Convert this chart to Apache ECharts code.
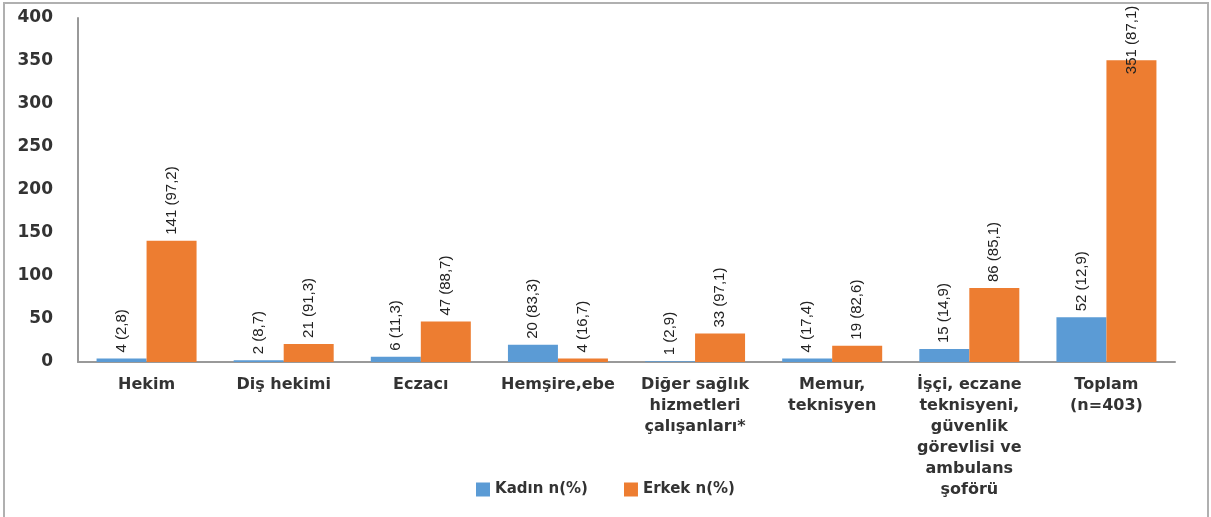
<!DOCTYPE html>
<html>
<head>
<meta charset="utf-8">
<script src="https://cdn.jsdelivr.net/npm/echarts@6/dist/echarts.min.js"></script>
<style>
  html, body { margin: 0; padding: 0; background: #fff; }
  #main { width: 1211px; height: 517px; }
</style>
</head>
<body>
<div id="main"></div>
<script>
var categories = ['Hekim', 'Diş hekimi', 'Eczacı', 'Hemşire,ebe',
  'Diğer sağlık\nhizmetleri\nçalışanları*', 'Memur,\nteknisyen',
  'İşçi, eczane\nteknisyeni,\ngüvenlik\ngörevlisi ve\nambulans\nşoförü',
  'Toplam\n(n=403)'];
var kadinN = [4, 2, 6, 20, 1, 4, 15, 52];
var kadinPct = ['2,8', '8,7', '11,3', '83,3', '2,9', '17,4', '14,9', '12,9'];
var erkekN = [141, 21, 47, 4, 33, 19, 86, 351];
var erkekPct = ['97,2', '91,3', '88,7', '16,7', '97,1', '82,6', '85,1', '87,1'];

var labelFont = 'Liberation Sans';
var axisFont = 'DejaVu Sans';

function makeData(nums, pcts) {
  return nums.map(function (v, i) {
    var item = { value: v, pct: pcts[i] };
    // the tallest label runs into the top edge, pull it down into the bar
    // (offset is in the rotated frame, so -x means down on screen)
    if (v > 300) item.label = { offset: [-20, 0] };
    return item;
  });
}

var barLabel = {
  show: true,
  position: 'top',
  rotate: 90,
  align: 'left',
  verticalAlign: 'middle',
  distance: 6,
  fontFamily: labelFont,
  fontSize: 15,
  color: '#222',
  formatter: function (p) { return p.value + ' (' + p.data.pct + ')'; }
};

var myChart = echarts.init(document.getElementById('main'));
var option = {
  animation: false,
  backgroundColor: '#fff',
  graphic: [{
    type: 'rect',
    shape: { x: 4, y: 3, width: 1204, height: 540 },
    style: { fill: 'none', stroke: '#b0b0b0', lineWidth: 2 },
    silent: true
  }],
  legend: {
    bottom: 15,
    left: 'center',
    icon: 'rect',
    itemWidth: 14,
    itemHeight: 14,
    itemGap: 36,
    textStyle: { fontFamily: axisFont, fontSize: 15, fontWeight: 'bold', color: '#333' },
    data: ['Kadın n(%)', 'Erkek n(%)']
  },
  grid: { left: 78, right: 36, top: 18, bottom: 155 },
  xAxis: {
    type: 'category',
    data: categories,
    axisLine: { lineStyle: { color: '#999', width: 2 } },
    axisTick: { show: false },
    axisLabel: {
      interval: 0,
      margin: 12,
      fontFamily: axisFont,
      fontSize: 16,
      fontWeight: 'bold',
      lineHeight: 21,
      color: '#333'
    }
  },
  yAxis: {
    type: 'value',
    min: 0,
    max: 400,
    interval: 50,
    axisLine: { show: true, lineStyle: { color: '#999', width: 2 } },
    axisTick: { show: false },
    splitLine: { show: false },
    axisLabel: {
      margin: 25,
      fontFamily: axisFont,
      fontSize: 17,
      fontWeight: 'bold',
      color: '#333'
    }
  },
  series: [
    {
      name: 'Kadın n(%)',
      type: 'bar',
      barWidth: 50,
      barGap: '0%',
      itemStyle: { color: '#5B9BD5' },
      label: barLabel,
      data: makeData(kadinN, kadinPct)
    },
    {
      name: 'Erkek n(%)',
      type: 'bar',
      barWidth: 50,
      barGap: '0%',
      itemStyle: { color: '#ED7D31' },
      label: barLabel,
      data: makeData(erkekN, erkekPct)
    }
  ]
};
myChart.setOption(option);
</script>
</body>
</html>
